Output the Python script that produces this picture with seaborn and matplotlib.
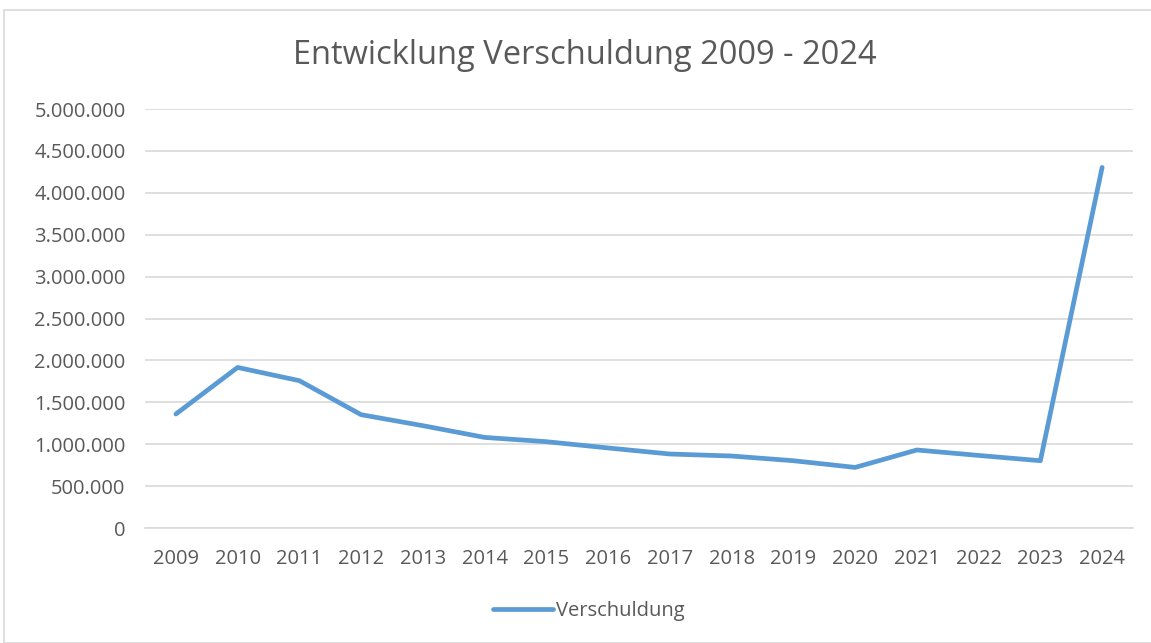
import matplotlib
matplotlib.use("Agg")
import matplotlib.pyplot as plt
import matplotlib.patches as patches
from matplotlib.ticker import FuncFormatter
import pandas as pd
import seaborn as sns

# Werte
jahre = [2009, 2010, 2011, 2012, 2013, 2014, 2015, 2016,
         2017, 2018, 2019, 2020, 2021, 2022, 2023, 2024]
verschuldung = [1360000, 1916000, 1758000, 1352000, 1221000, 1081000, 1030000, 955000,
                883000, 859000, 803000, 723000, 931000, 866000, 803000, 4303000]

df = pd.DataFrame({"Jahr": jahre, "Verschuldung": verschuldung})

sns.set_theme(style="white")
plt.rcParams["font.family"] = ["Open Sans", "DejaVu Sans"]

fig = plt.figure(figsize=(11.51, 6.43), dpi=100)
ax = fig.add_axes([145 / 1151, 1 - 528 / 643, 988 / 1151, 419 / 643])

sns.lineplot(data=df, x="Jahr", y="Verschuldung", ax=ax, color="#5b9bd5",
             linewidth=3.4, label="Verschuldung", legend=False)
ax.lines[0].set_solid_capstyle("round")
ax.lines[0].set_solid_joinstyle("round")

ax.set_xlim(2008.5, 2024.5)
ax.set_ylim(0, 5000000)
ax.set_xticks(jahre)
ax.set_xticklabels([str(j) for j in jahre])
ax.set_yticks(range(0, 5000001, 500000))
ax.yaxis.set_major_formatter(FuncFormatter(lambda v, p: f"{int(v):,}".replace(",", ".")))
ax.grid(axis="y", color="#d9d9d9", linewidth=1.2)
ax.set_axisbelow(True)
for s in ["top", "right", "left"]:
    ax.spines[s].set_visible(False)
ax.spines["bottom"].set_color("#d9d9d9")
ax.spines["bottom"].set_linewidth(1.2)
ax.tick_params(axis="both", length=0, labelsize=14.5, colors="#595959")
ax.tick_params(axis="x", pad=15)
ax.tick_params(axis="y", pad=14)
ax.set_xlabel("")
ax.set_ylabel("")

fig.text(585 / 1151, 1 - 55 / 643, "Entwicklung Verschuldung 2009 - 2024",
         ha="center", va="center", fontsize=23.5, color="#595959")

handles, labels = ax.get_legend_handles_labels()
leg = fig.legend(handles, labels, loc="center", bbox_to_anchor=(589 / 1151, 1 - 611 / 643),
                 frameon=False, fontsize=14.5, handlelength=3.0, handletextpad=0.15)
for t in leg.get_texts():
    t.set_color("#595959")

fig.patches.append(patches.Rectangle((4 / 1151, 0), 1.0, 1 - 10 / 643, transform=fig.transFigure,
                                     fill=False, edgecolor="#d9d9d9", linewidth=1.2))

fig.savefig("out.png", dpi=100, facecolor="white")
